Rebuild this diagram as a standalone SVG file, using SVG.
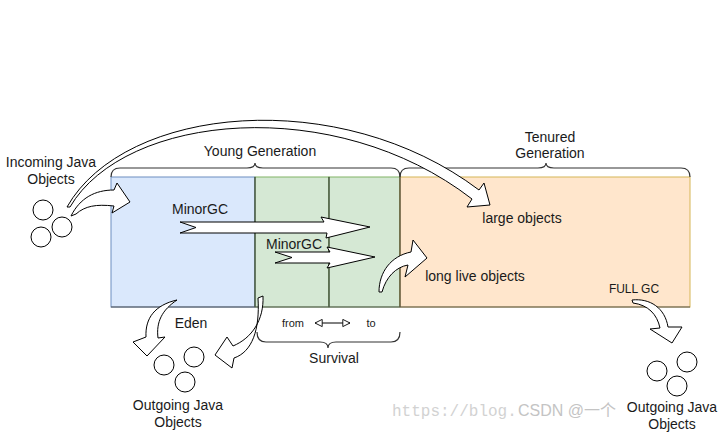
<svg xmlns="http://www.w3.org/2000/svg" width="723" height="432" viewBox="0 0 723 432">
<defs>
<style>
text{font-family:"Liberation Sans",Arial,"Noto Sans CJK SC",sans-serif;fill:#1a1a1a;font-size:14px}
.c{text-anchor:middle}
.obj{fill:#fff;stroke:#000;stroke-width:1}
.arr{fill:#fff;stroke:#000;stroke-width:1;stroke-linejoin:miter}
.brace{fill:none;stroke:#333;stroke-width:1.2}
.div{stroke:#222;stroke-width:1}
.wm1{font-family:"Liberation Mono","DejaVu Sans Mono",monospace;font-size:16px;fill:#d2d2d2}
.wm2{font-family:"Liberation Sans","Noto Sans CJK SC",sans-serif;font-size:16px;fill:#c4c4c4}
</style>
<marker id="oh" viewBox="0 0 10 10" refX="9" refY="5" markerWidth="9" markerHeight="9" markerUnits="userSpaceOnUse" orient="auto-start-reverse">
<path d="M1,1 L9,5 L1,9 Z" fill="#fff" stroke="#000" stroke-width="1"/>
</marker>
</defs>
<rect width="723" height="432" fill="#fff"/>

<g id="watermark">
<text class="wm1" x="392" y="416">https://blog.</text>
<text class="wm2" x="518" y="416">CSDN @一个</text>
</g>

<g id="eden">
<rect x="111" y="177" width="144" height="130" fill="#dae8fc" stroke="#6c8ebf"/>
<text x="191" y="328" class="c">Eden</text>
</g>
<g id="survivor-from">
<rect x="255" y="177" width="74" height="130" fill="#d5e8d4" stroke="#82b366"/>
<text x="293" y="327" class="c" style="font-size:11px">from</text>
</g>
<g id="survivor-to">
<rect x="329" y="177" width="71" height="130" fill="#d5e8d4" stroke="#82b366"/>
<text x="371" y="327" class="c" style="font-size:11px">to</text>
</g>
<g id="tenured">
<rect x="400" y="177" width="290" height="130" fill="#ffe6cc" stroke="#d6b656"/>
<text x="522" y="223" class="c">large objects</text>
<text x="475" y="281" class="c">long live objects</text>
<text x="634" y="293" class="c" style="font-size:12px">FULL GC</text>
</g>
<g id="dividers">
<line class="div" x1="255" y1="177" x2="255" y2="307"/>
<line class="div" x1="329" y1="177" x2="329" y2="307"/>
<line class="div" x1="400" y1="177" x2="400" y2="307"/>
<line x1="111" y1="307" x2="690" y2="307" stroke="#555" stroke-width="1"/>
</g>

<g id="young-generation">
<path class="brace" d="M111,177 Q111,168 120,168 L247,168 Q255,168 255,163 Q255,168 263,168 L391,168 Q400,168 400,177"/>
<text x="260" y="156" class="c">Young Generation</text>
</g>
<g id="tenured-generation">
<path class="brace" d="M400,177 Q400,168 409,168 L538,168 Q546,168 546,163 Q546,168 554,168 L681,168 Q690,168 690,177"/>
<text x="550" y="142" class="c">Tenured</text>
<text x="550" y="158" class="c">Generation</text>
</g>
<g id="survival">
<path class="brace" d="M257,332 Q257,342 266,342 L320,342 Q328,342 328,348 Q328,342 336,342 L391,342 Q400,342 400,332"/>
<text x="334" y="363" class="c">Survival</text>
</g>

<g id="incoming-objects">
<circle class="obj" cx="43" cy="210" r="10"/>
<circle class="obj" cx="41" cy="237" r="10"/>
<circle class="obj" cx="62" cy="227" r="10"/>
<text x="51" y="167" class="c">Incoming Java</text>
<text x="51" y="184" class="c">Objects</text>
</g>
<g id="outgoing-left">
<circle class="obj" cx="164" cy="365" r="10"/>
<circle class="obj" cx="194" cy="357" r="10"/>
<circle class="obj" cx="185" cy="382" r="10"/>
<text x="178" y="410" class="c">Outgoing Java</text>
<text x="178" y="427" class="c">Objects</text>
</g>
<g id="outgoing-right">
<circle class="obj" cx="657" cy="371" r="10"/>
<circle class="obj" cx="687" cy="362" r="10"/>
<circle class="obj" cx="677" cy="386" r="10"/>
<text x="672" y="412" class="c">Outgoing Java</text>
<text x="672" y="429" class="c">Objects</text>
</g>

<g id="connectors">
<path class="arr" d="M67,207 C125,105 340,85 479,190 L484,183 L490,205 L467,207 L472,199 C335,93 125,113 70,207 Z"/>
<path class="arr" d="M71,216 C80,198 95,190 114,190 L117,183 L130,202 L112,213 L114,206 C96,204 85,206 76,214 Z"/>
<path class="arr" d="M180,222 L324,222 L321,217 L370,227 L326,238 L327,233 L180,233 L196,227.5 Z"/>
<text x="200" y="214" class="c">MinorGC</text>
<path class="arr" d="M275,252 L330,252 L327,247 L375,257 L327,268 L330,263 L275,263 L292,257.5 Z"/>
<text x="294" y="249" class="c">MinorGC</text>
<path class="arr" d="M379,292 C379,272 391,256 411,252 L413,240 L427,258 L405,277 L408,265 C396,267 386,277 382,292 Z"/>
<path class="arr" d="M177,300 C155,305 145,318 146,337 L133,342 L147,356 L165,337 L158,338 C156,322 162,310 177,300 Z"/>
<path class="arr" d="M263,296 C264,320 252,338 233,346 L227,337 L215,355 L232,368 L234,358 C252,352 260,330 258,298 Z"/>
<path class="arr" d="M632,300 C650,298 665,308 668,327 L682,327 L672,343 L650,329 L660,328 C657,314 648,305 633,303 Z"/>
<line x1="315" y1="323" x2="350" y2="323" stroke="#000" stroke-width="1" marker-start="url(#oh)" marker-end="url(#oh)"/>
</g>
</svg>
